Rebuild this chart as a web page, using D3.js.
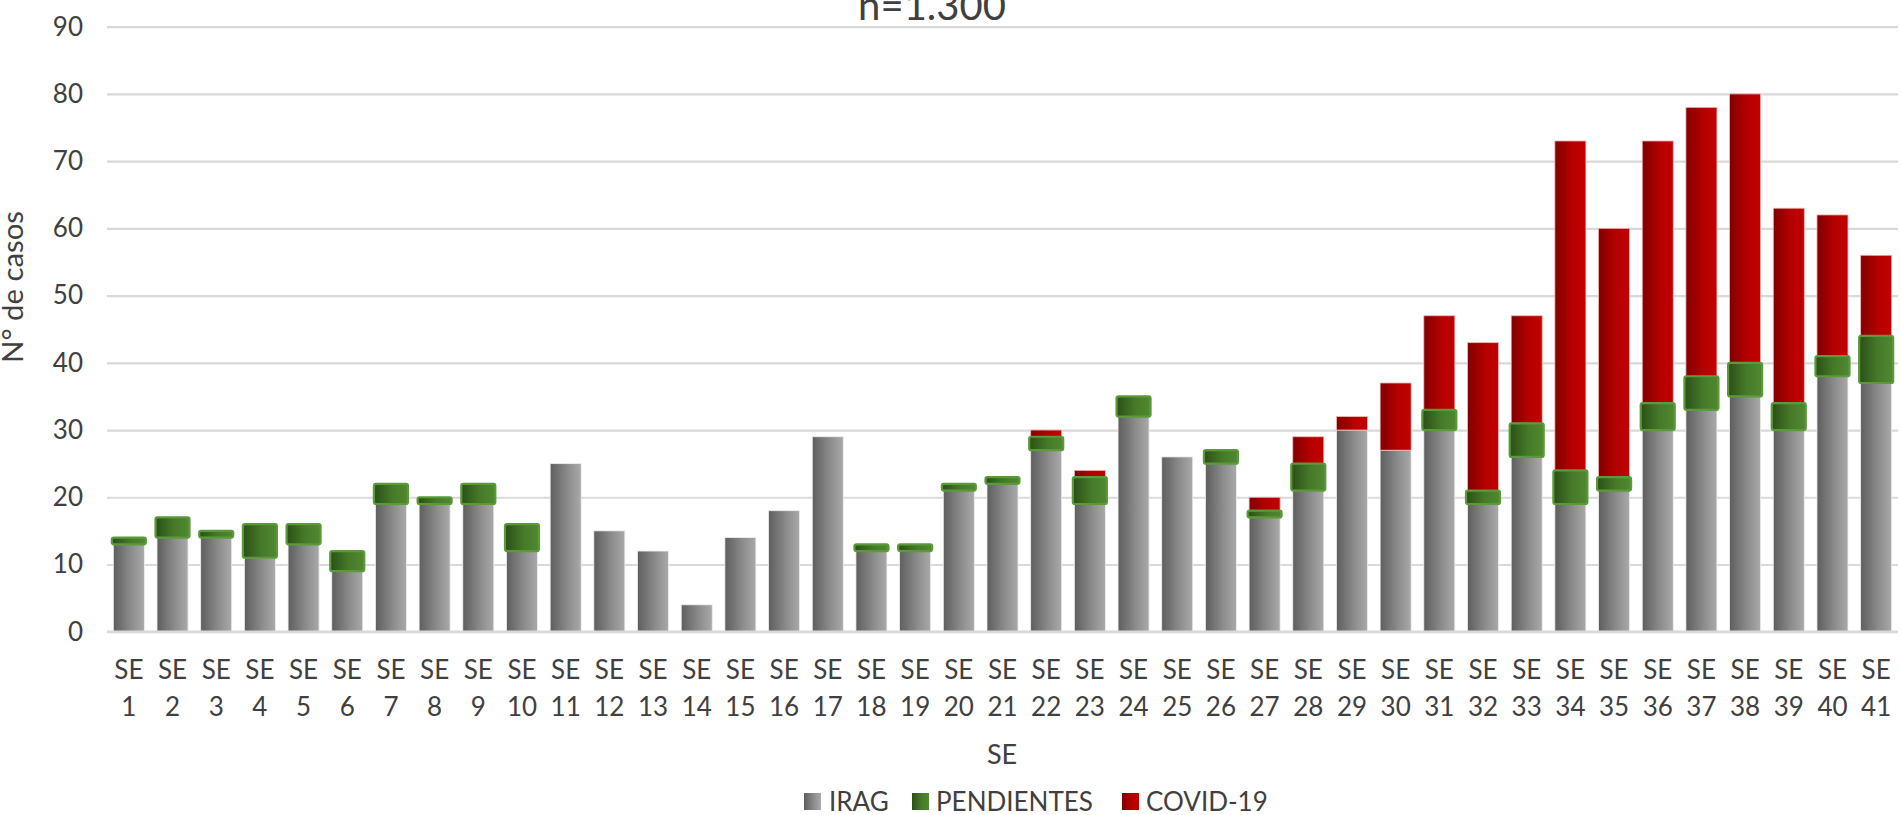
<!DOCTYPE html>
<html>
<head>
<meta charset="utf-8">
<script src="https://cdn.jsdelivr.net/npm/d3@7/dist/d3.min.js"></script>
<style>
  html, body { margin: 0; padding: 0; background: #ffffff; }
  svg { display: block; }
  text { font-family: Lato, "Open Sans", sans-serif; fill: #404040; }
</style>
</head>
<body>
<svg id="chart" width="1901" height="815"></svg>
<script>
const categories = ["SE 1","SE 2","SE 3","SE 4","SE 5","SE 6","SE 7","SE 8","SE 9","SE 10",
  "SE 11","SE 12","SE 13","SE 14","SE 15","SE 16","SE 17","SE 18","SE 19","SE 20",
  "SE 21","SE 22","SE 23","SE 24","SE 25","SE 26","SE 27","SE 28","SE 29","SE 30",
  "SE 31","SE 32","SE 33","SE 34","SE 35","SE 36","SE 37","SE 38","SE 39","SE 40","SE 41"];
const irag =       [13,14,14,11,13,9,19,19,19,12,25,15,12,4,14,18,29,12,12,21,22,27,19,32,26,25,17,21,30,27,30,19,26,19,21,30,33,35,30,38,37];
const pendientes = [1,3,1,5,3,3,3,1,3,4,0,0,0,0,0,0,0,1,1,1,1,2,4,3,0,2,1,4,0,0,3,2,5,5,2,4,5,5,4,3,7];
const covid =      [0,0,0,0,0,0,0,0,0,0,0,0,0,0,0,0,0,0,0,0,0,1,1,0,0,0,2,4,2,10,14,22,16,49,37,39,40,40,29,21,12];
const seriesNames = ["IRAG","PENDIENTES","COVID-19"];
const yTicks = [0,10,20,30,40,50,60,70,80,90];
const titleText = "n=1.300";
const yTitle = "N° de casos";
const xTitle = "SE";

(function () {
const svg = d3.select("#chart");
const pLeft = 107, pRight = 1898, pTop = 26.7, pBottom = 631.7;

const rows = categories.map((c, i) => ({cat: c, irag: irag[i], pendientes: pendientes[i], covid: covid[i]}));
const stack = d3.stack().keys(["irag","pendientes","covid"])(rows);

const x = d3.scaleBand().domain(categories).range([pLeft, pRight]).paddingInner(0.29).paddingOuter(0.145);
const y = d3.scaleLinear().domain([0, 90]).range([pBottom, pTop]);

const defs = svg.append("defs");
function grad(id, stops) {
  const g = defs.append("linearGradient").attr("id", id).attr("x1","0%").attr("x2","100%").attr("y1","0%").attr("y2","0%");
  stops.forEach(s => g.append("stop").attr("offset", s[0]).attr("stop-color", s[1]));
}
grad("gGrey", [["0%","#5e5e5e"],["60%","#8e8e8e"],["100%","#a9a9a9"]]);
grad("gGreen", [["0%","#2b4f17"],["55%","#467a29"],["100%","#518830"]]);
grad("gRed", [["0%","#800000"],["55%","#b50000"],["100%","#c40000"]]);

const yAxis = d3.axisLeft(y).tickValues(yTicks).tickSize(-(pRight - pLeft)).tickPadding(24);
const gy = svg.append("g").attr("transform", `translate(${pLeft},0)`).call(yAxis);
gy.select(".domain").remove();
gy.selectAll(".tick line").attr("stroke", "#d9d9d9").attr("stroke-width", 2.2);
gy.selectAll(".tick text").attr("font-size", 26).attr("fill", "#404040")
  .style("font-family", "Lato, sans-serif");

const fills = {irag: "url(#gGrey)", pendientes: "url(#gGreen)", covid: "url(#gRed)"};
const drawOrder = [0, 2, 1];
drawOrder.forEach(si => {
  const layer = stack[si];
  const key = layer.key;
  const g = svg.append("g");
  const data = layer.filter(d => d[1] - d[0] > 0);
  if (key === "pendientes") {
    g.selectAll("rect").data(data).join("rect")
      .attr("x", d => x(d.data.cat) - 1.5)
      .attr("width", x.bandwidth() + 3)
      .attr("y", d => y(d[1]))
      .attr("height", d => y(d[0]) - y(d[1]))
      .attr("rx", 2)
      .attr("fill", fills[key])
      .attr("stroke", "#5b9a3b")
      .attr("stroke-width", 2.2);
  } else {
    g.selectAll("rect").data(data).join("rect")
      .attr("x", d => x(d.data.cat))
      .attr("width", x.bandwidth())
      .attr("y", d => y(d[1]))
      .attr("height", d => y(d[0]) - y(d[1]))
      .attr("fill", fills[key])
      .attr("stroke", key === "covid" ? "#f2b8b8" : "#eeeeee")
      .attr("stroke-width", 0.8);
  }
});

const xAxis = d3.axisBottom(x).tickSize(0).tickPadding(0);
const gx = svg.append("g").attr("transform", `translate(0,${pBottom})`).call(xAxis);
gx.select(".domain").remove();
gx.selectAll(".tick text").each(function(d) {
  const t = d3.select(this);
  const parts = d.split(" ");
  t.text(null).attr("y", 0).attr("dy", null).attr("font-size", 26).attr("fill", "#404040")
    .style("font-family", "Lato, sans-serif");
  t.append("tspan").attr("x", 0).attr("y", 47).text(parts[0]);
  t.append("tspan").attr("x", 0).attr("y", 84).text(parts[1]);
});
svg.append("line").attr("x1", pLeft).attr("x2", pRight).attr("y1", y(0)).attr("y2", y(0))
  .attr("stroke", "#d9d9d9").attr("stroke-width", 2.6);

svg.append("text").attr("x", 932).attr("y", 20).attr("text-anchor", "middle")
  .attr("font-size", 40).attr("fill", "#1a1a1a").text(titleText);

const yt = svg.append("text").attr("transform", `translate(23,287) rotate(-90)`)
  .attr("text-anchor", "middle").attr("font-size", 28).attr("fill", "#1a1a1a").text(yTitle);
const len = yt.node().getComputedTextLength();
if (len > 0) {
  const fs = Math.max(24, Math.min(32, 28 * 152 / len));
  yt.attr("font-size", fs);
}

svg.append("text").attr("x", 1002).attr("y", 764).attr("text-anchor", "middle")
  .attr("font-size", 27).attr("fill", "#404040").text(xTitle);

const legendItems = [
  {name: seriesNames[0], fill: "url(#gGrey)", sx: 804, tx: 829},
  {name: seriesNames[1], fill: "url(#gGreen)", sx: 912, tx: 936},
  {name: seriesNames[2], fill: "url(#gRed)", sx: 1122, tx: 1146}
];
const lg = svg.append("g");
legendItems.forEach(it => {
  lg.append("rect").attr("x", it.sx).attr("y", 793).attr("width", 17).attr("height", 17).attr("fill", it.fill);
  lg.append("text").attr("x", it.tx).attr("y", 811).attr("font-size", 26).attr("fill", "#404040").text(it.name);
});
})();
</script>
</body>
</html>
